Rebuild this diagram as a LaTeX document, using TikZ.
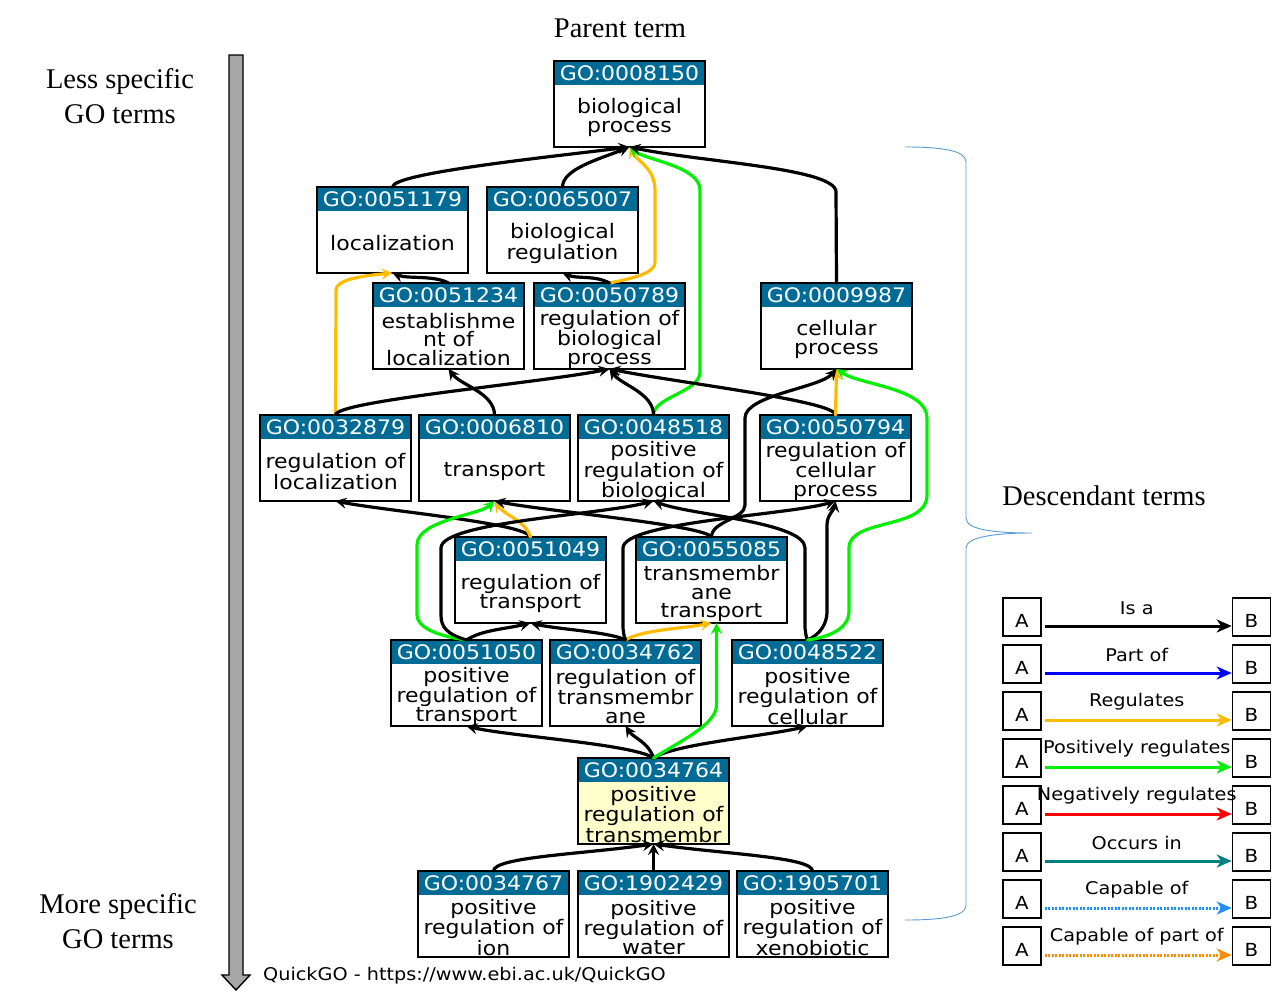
\documentclass[tikz,border=0pt]{standalone}
\usepackage{fontspec}
\setmainfont{Liberation Serif}
\newfontfamily\dvs[FakeStretch=1.1]{DejaVu Sans}
\usetikzlibrary{arrows.meta,calc}
\definecolor{gohdr}{RGB}{0,108,150}
\definecolor{goyel}{RGB}{255,255,204}
\definecolor{regorange}{RGB}{255,187,0}
\definecolor{posgreen}{RGB}{0,240,0}
\definecolor{partblue}{RGB}{0,0,255}
\definecolor{negred}{RGB}{255,0,0}
\definecolor{occteal}{RGB}{0,128,128}
\definecolor{capblue}{RGB}{30,144,255}
\definecolor{caporange}{RGB}{255,140,0}
\definecolor{bracecol}{RGB}{91,155,213}
\definecolor{axisgray}{RGB}{166,166,166}
\tikzset{
  gobox/.style={draw=black, line width=1.6pt, minimum width=151pt, minimum height=86pt, inner sep=0pt, outer sep=0pt, anchor=north west},
  hdrtext/.style={text=white, font=\dvs\fontsize{20}{20}\selectfont, inner sep=0pt},
  bodytext/.style={font=\dvs\fontsize{20}{18.5}\selectfont, align=center, inner sep=0pt},
  isa/.style={draw=black, line width=3.2pt, line cap=round, -{Stealth[length=11pt,width=11pt,inset=4pt]}},
  regline/.style={isa, draw=regorange},
  posline/.style={isa, draw=posgreen},
  legbox/.style={draw=black, line width=1.6pt, minimum width=38pt, minimum height=38pt, inner sep=0pt},
  legletter/.style={font=\dvs\fontsize{18}{18}\selectfont, inner sep=0pt},
  legtext/.style={font=\dvs\fontsize{17.5}{18}\selectfont, inner sep=0pt},
  legarrow/.style={line width=3pt, -{Stealth[length=15pt,width=13pt,inset=4.5pt]}},
  serif/.style={font=\fontsize{28.5}{35}\selectfont, align=center, inner sep=0pt}
}
\newcommand\gonode[6][white]{%
  \node[gobox, fill=#1] (#2) at (#3,#4) {};
  \fill[gohdr] (#2.north west) rectangle ([yshift=-24pt]#2.north east);
  \node[hdrtext] at ([yshift=-12pt]#2.north) {#5};
  \node[bodytext] at ([yshift=-56.5pt]#2.north) {#6};
  \draw[line width=1.6pt] (#2.north west) rectangle (#2.south east);
}
\newcommand\legrow[3]{%
  \node[legbox] (A#1) at (1022,{617+47*#1}) {};
  \node[legbox] (B#1) at (1251.5,{617+47*#1}) {};
  \node[legletter] at ([yshift=-4pt]A#1.center) {A};
  \node[legletter] at ([yshift=-4pt]B#1.center) {B};
  \draw[legarrow,#3] ([xshift=3pt,yshift=-9pt]A#1.east) -- ([yshift=-9pt]B#1.west);
  \node[legtext] at ($(A#1.east)!0.5!(B#1.west)+(0,-9)$) {#2};
}
\begin{document}
\begin{tikzpicture}[x=1pt,y=-1pt]
\fill[white] (0,0) rectangle (1279,1007);
\useasboundingbox (0,0) rectangle (1279,1007);

% side texts
\node[serif] (parent) at (620,28) {Parent term};
\node[serif] (lessspec) at (120,96) {Less specific\\GO terms};
\node[serif] (morespec) at (118,921) {More specific\\GO terms};
\node[serif] (desc) at (1104,496) {Descendant terms};
\node[legtext, anchor=west] (quick) at (263,976) {QuickGO - https://www.ebi.ac.uk/QuickGO};

% gray axis arrow
\filldraw[fill=axisgray, draw=black, line width=1.4pt, line join=miter]
  (229,55) -- (243,55) -- (243,975) -- (250,975) -- (236,990) -- (222,975) -- (229,975) -- cycle;

% brace
\draw[bracecol, line width=0.9pt]
  (905,147) .. controls (940,147) and (966,150) .. (966,162) -- (966,518)
  .. controls (966,530) and (995,533) .. (1032,533)
  .. controls (995,533) and (966,537) .. (966,548) -- (966,905)
  .. controls (966,917) and (940,920) .. (905,920);

% GO nodes
\gonode{n8150}{554}{61}{GO:0008150}{biological\\process}
\gonode{n51179}{317}{187}{GO:0051179}{localization}
\gonode{n65007}{487}{187}{GO:0065007}{biological\\regulation}
\gonode{n51234}{373}{283}{GO:0051234}{establishme\\nt of\\localization}
\gonode{n50789}{534}{283}{GO:0050789}{regulation of\\biological\\process}
\gonode{n9987}{761}{283}{GO:0009987}{cellular\\process}
\gonode{n32879}{260}{415}{GO:0032879}{regulation of\\localization}
\gonode{n6810}{419}{415}{GO:0006810}{transport}
\gonode{n48518}{578}{415}{GO:0048518}{positive\\regulation of\\biological}
\gonode{n50794}{760}{415}{GO:0050794}{regulation of\\cellular\\process}
\gonode{n51049}{455}{537}{GO:0051049}{regulation of\\transport}
\gonode{n55085}{636}{537}{GO:0055085}{transmembr\\ane\\transport}
\gonode{n51050}{391}{640}{GO:0051050}{positive\\regulation of\\transport}
\gonode{n34762}{550}{640}{GO:0034762}{regulation of\\transmembr\\ane}
\gonode{n48522}{732}{640}{GO:0048522}{positive\\regulation of\\cellular}
\gonode[goyel]{n34764}{578}{758}{GO:0034764}{positive\\regulation of\\transmembr}
\gonode{n34767}{418}{871}{GO:0034767}{positive\\regulation of\\ion}
\gonode{n1902429}{578}{871}{GO:1902429}{positive\\regulation of\\water}
\gonode{n1905701}{737}{871}{GO:1905701}{positive\\regulation of\\xenobiotic}

% edges to GO:0008150
\draw[isa] (n51179.north) .. controls +(0,-14) and +(-80,10) .. (n8150.south);
\draw[isa] (n65007.north) .. controls +(0,-18) and +(-30,12) .. (n8150.south);
\draw[regline] (n50789.north) .. controls +(30,-6) and +(0,10) .. (655,262) -- (655,190) .. controls (655,168) and (636,160) .. (n8150.south);
\draw[posline] (n48518.north) .. controls +(0,-18) and +(0,20) .. (700,372) -- (700,190) .. controls (700,166) and (645,160) .. (n8150.south);
\draw[isa] (n9987.north) -- (836,192) .. controls (836,168) and (700,162) .. (n8150.south);

% row 2 -> row 1
\draw[isa] (n51234.north) .. controls +(-15,-8) and +(15,6) .. (n51179.south);
\draw[isa] (n50789.north) .. controls +(-15,-8) and +(15,6) .. (n65007.south);
\draw[regline] (n32879.north) -- (336,290) .. controls (336,280) and (360,276) .. (n51179.south);

% row 3 -> row 2
\draw[isa] (n32879.north) .. controls +(0,-14) and +(-70,14) .. (n50789.south);
\draw[isa] (n6810.north) .. controls +(0,-22) and +(12,16) .. (n51234.south);
\draw[isa] (n48518.north) .. controls +(0,-22) and +(12,16) .. (n50789.south);
\draw[isa] (n50794.north) .. controls +(0,-14) and +(70,14) .. (n50789.south);
\draw[regline] (n50794.north) -- (n9987.south);

% row 4 -> row 3
\draw[isa] (n51049.north) .. controls +(-5,-14) and +(50,10) .. (n32879.south);
\draw[regline] (n51049.north) .. controls +(-5,-16) and +(10,14) .. (n6810.south);
\draw[isa] (n55085.north) .. controls +(-8,-12) and +(50,10) .. (n6810.south);
\draw[isa] (n55085.north) .. controls +(0,-16) and +(0,14) .. (745,505) -- (745,418) .. controls (745,395) and (820,388) .. (n9987.south);

% row 5 -> upper rows
\draw[posline] (n51050.north) .. controls +(-30,-4) and +(0,12) .. (417,615) -- (417,545) .. controls (417,520) and (480,515) .. (n6810.south);
\draw[isa] (n51050.north) .. controls +(-20,-6) and +(0,12) .. (441,615) -- (441,548) .. controls (441,522) and (600,515) .. (n48518.south);
\draw[isa] (n51050.north) .. controls +(15,-10) and +(-25,6) .. (n51049.south);
\draw[isa] (n34762.north) .. controls +(-15,-8) and +(25,6) .. (n51049.south);
\draw[regline] (n34762.north) .. controls +(15,-10) and +(-25,5) .. (n55085.south);
\draw[isa] (n34762.north) .. controls +(-3,-8) and +(0,12) .. (623,615) -- (623,548) .. controls (623,522) and (790,515) .. (n50794.south);
\draw[isa] (n48522.north) .. controls +(-3,-8) and +(0,12) .. (805,615) -- (805,548) .. controls (805,522) and (690,515) .. (n48518.south);
\draw[isa] (n48522.north) .. controls +(12,-5) and +(0,12) .. (827,612) -- (827,525) .. controls (827,515) and (834,510) .. (n50794.south);
\draw[posline] (n48522.north) .. controls +(30,-4) and +(0,12) .. (849,612) -- (849,548) .. controls (849,518) and (927,530) .. (927,495) -- (927,418) .. controls (927,388) and (860,385) .. (n9987.south);

% row 6 -> row 5
\draw[isa] (n34764.north) .. controls +(-20,-14) and +(40,10) .. (n51050.south);
\draw[isa] (n34764.north) .. controls +(-5,-16) and +(8,12) .. (n34762.south);
\draw[isa] (n34764.north) .. controls +(20,-14) and +(-40,10) .. (n48522.south);
\draw[posline] (n34764.north) .. controls +(25,-16) and +(0,20) .. (716.5,705) -- ([xshift=5pt]n55085.south);

% row 7 -> row 6
\draw[isa] (n34767.north) .. controls +(0,-14) and +(-70,10) .. (n34764.south);
\draw[isa] (n1902429.north) -- (n34764.south);
\draw[isa] (n1905701.north) .. controls +(0,-14) and +(70,10) .. (n34764.south);

% legend
\legrow{0}{Is a}{draw=black}
\legrow{1}{Part of}{draw=partblue}
\legrow{2}{Regulates}{draw=regorange}
\legrow{3}{Positively regulates}{draw=posgreen}
\legrow{4}{Negatively regulates}{draw=negred}
\legrow{5}{Occurs in}{draw=occteal}
\legrow{6}{Capable of}{draw=capblue, dash pattern=on 2pt off 1.5pt}
\legrow{7}{Capable of part of}{draw=caporange, dash pattern=on 2pt off 1.5pt}
\end{tikzpicture}
\end{document}
